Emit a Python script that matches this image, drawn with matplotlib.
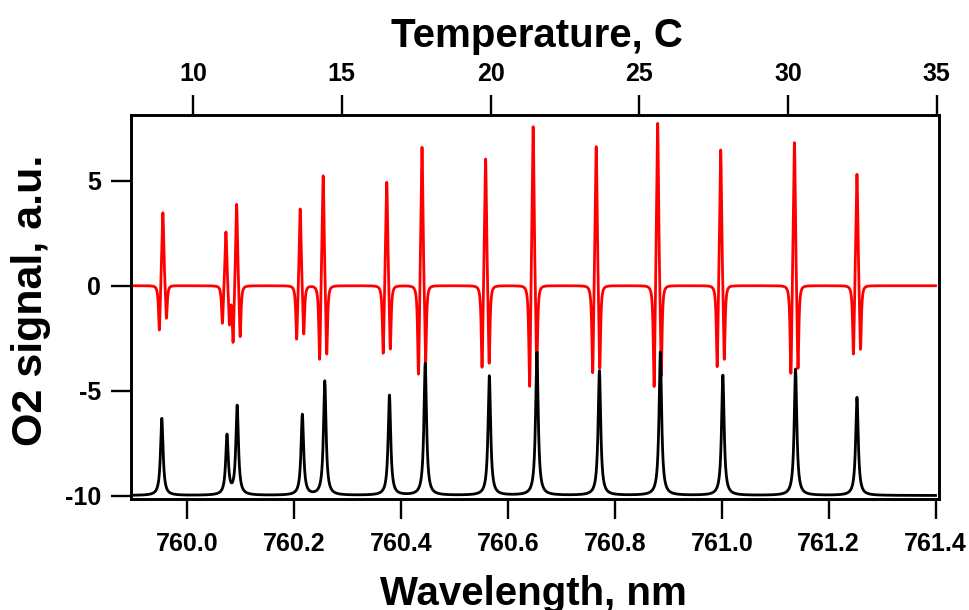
import numpy as np
import matplotlib.pyplot as plt

plt.rcParams["font.family"] = ["Liberation Sans", "DejaVu Sans"]
plt.rcParams["font.weight"] = "bold"
plt.rcParams["axes.unicode_minus"] = False

# peak positions (nm) and values
black_centers = [759.952, 760.074, 760.093, 760.215, 760.257, 760.378, 760.445,
                 760.565, 760.654, 760.771, 760.885, 761.002, 761.138, 761.253]
black_tops = [-6.32, -7.07, -5.69, -6.12, -4.53, -5.21, -3.70,
              -4.29, -3.17, -4.05, -3.15, -4.26, -3.97, -5.32]
black_base = -10.0

red_centers = [759.954, 760.072, 760.092, 760.211, 760.254, 760.373, 760.439,
               760.558, 760.647, 760.765, 760.880, 760.998, 761.136, 761.253]
red_peaks = [3.48, 2.56, 3.88, 3.66, 5.24, 4.93, 6.60,
             6.04, 7.58, 6.63, 7.74, 6.47, 6.82, 5.31]
red_left = [-2.11, -1.79, -2.70, -2.55, -3.51, -3.22, -4.22,
            -3.89, -4.80, -4.15, -4.81, -3.86, -4.18, -3.26]
red_right = [-1.55, -1.87, -2.43, -2.30, -3.26, -3.02, -3.68,
             -3.70, -4.30, -3.94, -4.30, -3.51, -3.94, -3.03]
red_lobe_offset = 0.0066

wl_range = [759.900, 761.400]
temp_range = [7.905, 35.09]
wl_ticks = [760.0, 760.2, 760.4, 760.6, 760.8, 761.0, 761.2, 761.4]
temp_ticks = [10, 15, 20, 25, 30, 35]
y_ticks = [-10, -5, 0, 5]


def lor(x, c, w):
    return 1.0 / (1.0 + ((x - c) / w) ** 2)


def build(x, pos, width, target, base=0.0):
    # amplitudes chosen so the summed profile passes through the read values
    pos = np.asarray(pos)
    width = np.asarray(width)
    M = lor(pos[:, None], pos[None, :], width[None, :])
    amp = np.linalg.solve(M, np.asarray(target) - base)
    return base + (amp[None, :] * lor(x[:, None], pos[None, :], width[None, :])).sum(axis=1)


wl = np.linspace(wl_range[0], wl_range[1], 6001)

black = build(wl, black_centers, [0.0029] * len(black_centers), black_tops, black_base)

rc = np.array(red_centers)
red_pos = np.concatenate([rc, rc - red_lobe_offset, rc + red_lobe_offset])
red_w = [0.0021] * len(rc) + [0.0019] * (2 * len(rc))
red = build(wl, red_pos, red_w, red_peaks + red_left + red_right)

fig = plt.figure(figsize=(9.69, 6.10), dpi=100)
ax = fig.add_axes([0.135, 0.1815, 0.8343, 0.630])
ax.plot(wl, red, color="red", lw=2.0)
ax.plot(wl, black, color="black", lw=2.0)

ax.set_xlim(759.894, 761.407)
ax.set_ylim(-10.18, 8.14)
ax.set_xticks(wl_ticks)
ax.set_xticklabels(["%.1f" % t for t in wl_ticks])
ax.set_yticks(y_ticks)
ax.set_yticklabels([str(t) for t in y_ticks])
ax.tick_params(direction="out", length=14.4, width=1.7, labelsize=18, right=False, top=False)
ax.tick_params(axis="x", pad=9)
ax.tick_params(axis="y", pad=7)

top = ax.twiny()
top.set_xlim(temp_range[0], temp_range[1])
top.set_xticks(temp_ticks)
top.set_xticklabels([str(t) for t in temp_ticks])
top.tick_params(direction="out", length=14.4, width=1.7, labelsize=18, pad=6.5)

for a in (ax, top):
    for s in a.spines.values():
        s.set_linewidth(1.9)

ax.text(0.4984, -0.275, "Wavelength, nm", transform=ax.transAxes, ha="center",
        va="baseline", fontsize=29, fontweight="bold")
ax.text(0.5025, 1.1777, "Temperature, C", transform=ax.transAxes, ha="center",
        va="baseline", fontsize=29, fontweight="bold")
ax.text(-0.1235, 0.5186, "O2 signal, a.u.", transform=ax.transAxes, ha="center",
        va="center", rotation=90, fontsize=31, fontweight="bold")

fig.savefig("out.png", dpi=100)
